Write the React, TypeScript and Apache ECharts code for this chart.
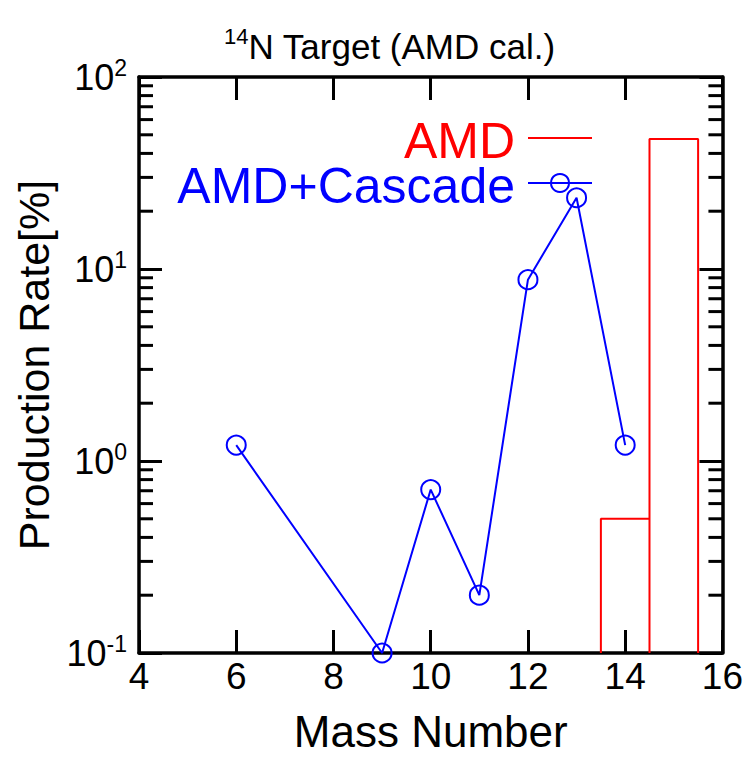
import React, { useEffect, useRef } from "react";
import * as echarts from "echarts";

const massNumbers = [6, 9, 10, 11, 12, 13, 14];
const cascadeRates = [1.21, 0.1, 0.71, 0.2, 8.8, 23.5, 1.21];

const amdBinLow = [13.5, 14.5];
const amdBinHigh = [14.5, 15.5];
const amdRates = [0.5, 47.5];

const yMinorTicks = [
  0.2, 0.3, 0.4, 0.5, 0.6, 0.7, 0.8, 0.9,
  2, 3, 4, 5, 6, 7, 8, 9,
  20, 30, 40, 50, 60, 70, 80, 90,
];

const FONT = "Liberation Sans, Arial, sans-serif";
const Y_FLOOR = 0.1;
const RED = "#ff0000";
const BLUE = "#0000ff";

export default function App() {
  const ref = useRef<HTMLDivElement>(null);
  useEffect(() => {
    document.body.style.margin = "0";
    document.documentElement.style.overflow = "hidden";
    if (!ref.current) return;
    const chart = echarts.init(ref.current, null, { renderer: "svg" });

    const amdPath: number[][] = [];
    amdRates.forEach((v, i) => {
      amdPath.push([amdBinLow[i], Y_FLOOR]);
      amdPath.push([amdBinLow[i], v]);
      amdPath.push([amdBinHigh[i], v]);
      amdPath.push([amdBinHigh[i], Y_FLOOR]);
    });

    const axisLine = { show: true, lineStyle: { color: "#000", width: 3.5 } };
    const majorTick = { show: true, inside: true, length: 23, lineStyle: { color: "#000", width: 3 } };

    chart.setOption({
      animation: false,
      backgroundColor: "#fff",
      title: {
        text: "{sup|14}{main|N Target (AMD cal.)}",
        left: 219,
        top: 20,
        textStyle: {
          fontWeight: "normal",
          rich: {
            sup: { fontSize: 22, fontFamily: FONT, color: "#000", fontWeight: "normal", padding: [0, 0, 20, 0] },
            main: { fontSize: 35, fontFamily: FONT, color: "#000", fontWeight: "normal" },
          },
        },
      },
      graphic: [
        {
          type: "text",
          right: 746 - 515,
          top: 116,
          style: { text: "AMD", fill: RED, fontSize: 50, lineHeight: 44, fontFamily: FONT },
        },
        {
          type: "line",
          shape: { x1: 528, y1: 138, x2: 592, y2: 138 },
          style: { stroke: RED, lineWidth: 2 },
        },
        {
          type: "text",
          right: 746 - 515,
          top: 161,
          style: { text: "AMD+Cascade", fill: BLUE, fontSize: 50, lineHeight: 44, fontFamily: FONT },
        },
        {
          type: "line",
          shape: { x1: 528, y1: 183, x2: 592, y2: 183 },
          style: { stroke: BLUE, lineWidth: 2 },
        },
        {
          type: "circle",
          shape: { cx: 560, cy: 183, r: 9 },
          style: { stroke: BLUE, lineWidth: 2, fill: "none" },
        },
      ],
      grid: { left: 139, top: 77, right: 23, bottom: 94 },
      xAxis: [
        {
          type: "value",
          min: 4,
          max: 16,
          interval: 2,
          position: "bottom",
          name: "Mass Number",
          nameLocation: "middle",
          nameGap: 56,
          nameTextStyle: { fontSize: 44, fontFamily: FONT, color: "#000" },
          axisLine,
          axisTick: majorTick,
          splitLine: { show: false },
          axisLabel: { fontSize: 37, fontFamily: FONT, color: "#000", margin: 5 },
        },
        {
          type: "value",
          min: 4,
          max: 16,
          interval: 2,
          position: "top",
          axisLine,
          axisTick: majorTick,
          splitLine: { show: false },
          axisLabel: { show: false },
        },
      ],
      yAxis: [
        {
          type: "log",
          logBase: 10,
          min: 0.1,
          max: 100,
          position: "left",
          name: "Production Rate[%]",
          nameLocation: "middle",
          nameGap: 84,
          nameTextStyle: { fontSize: 43, fontFamily: FONT, color: "#000" },
          axisLine,
          axisTick: majorTick,
          splitLine: { show: false },
          axisLabel: {
            margin: 12,
            formatter: (v: number) => `{b|10}{s|${Math.round(Math.log10(v))}}`,
            rich: {
              b: { fontSize: 36, fontFamily: FONT, color: "#000" },
              s: { fontSize: 23, fontFamily: FONT, color: "#000", padding: [0, 0, 18, 0] },
            },
          },
        },
        {
          type: "log",
          logBase: 10,
          min: 0.1,
          max: 100,
          position: "right",
          axisLine,
          axisTick: majorTick,
          splitLine: { show: false },
          axisLabel: { show: false },
        },
      ],
      series: [
        {
          name: "AMD",
          type: "line",
          data: amdPath,
          showSymbol: false,
          symbol: "none",
          lineStyle: { color: RED, width: 2 },
          itemStyle: { color: RED },
          z: 3,
        },
        {
          name: "AMD+Cascade",
          type: "line",
          data: massNumbers.map((m, i) => [m, cascadeRates[i]]),
          symbol: "circle",
          symbolSize: 19,
          lineStyle: { color: BLUE, width: 2 },
          itemStyle: { color: "rgba(0,0,0,0)", borderColor: BLUE, borderWidth: 2 },
          clip: false,
          z: 4,
        },
        {
          name: "minorTicks",
          type: "custom",
          data: yMinorTicks.map((v) => [4, v]),
          encode: { x: 0, y: 1 },
          renderItem: (params: any, api: any) => {
            const cs = params.coordSys;
            const y = api.coord([4, api.value(1)])[1];
            const len = 14;
            const style = { stroke: "#000", lineWidth: 3 };
            return {
              type: "group",
              children: [
                { type: "line", shape: { x1: cs.x, y1: y, x2: cs.x + len, y2: y }, style },
                { type: "line", shape: { x1: cs.x + cs.width - len, y1: y, x2: cs.x + cs.width, y2: y }, style },
              ],
            };
          },
          silent: true,
          z: 5,
        },
      ],
    });
    return () => chart.dispose();
  }, []);
  return (
    <div
      ref={ref}
      style={{ position: "fixed", left: 0, top: 0, width: 746, height: 758 }}
    />
  );
}
